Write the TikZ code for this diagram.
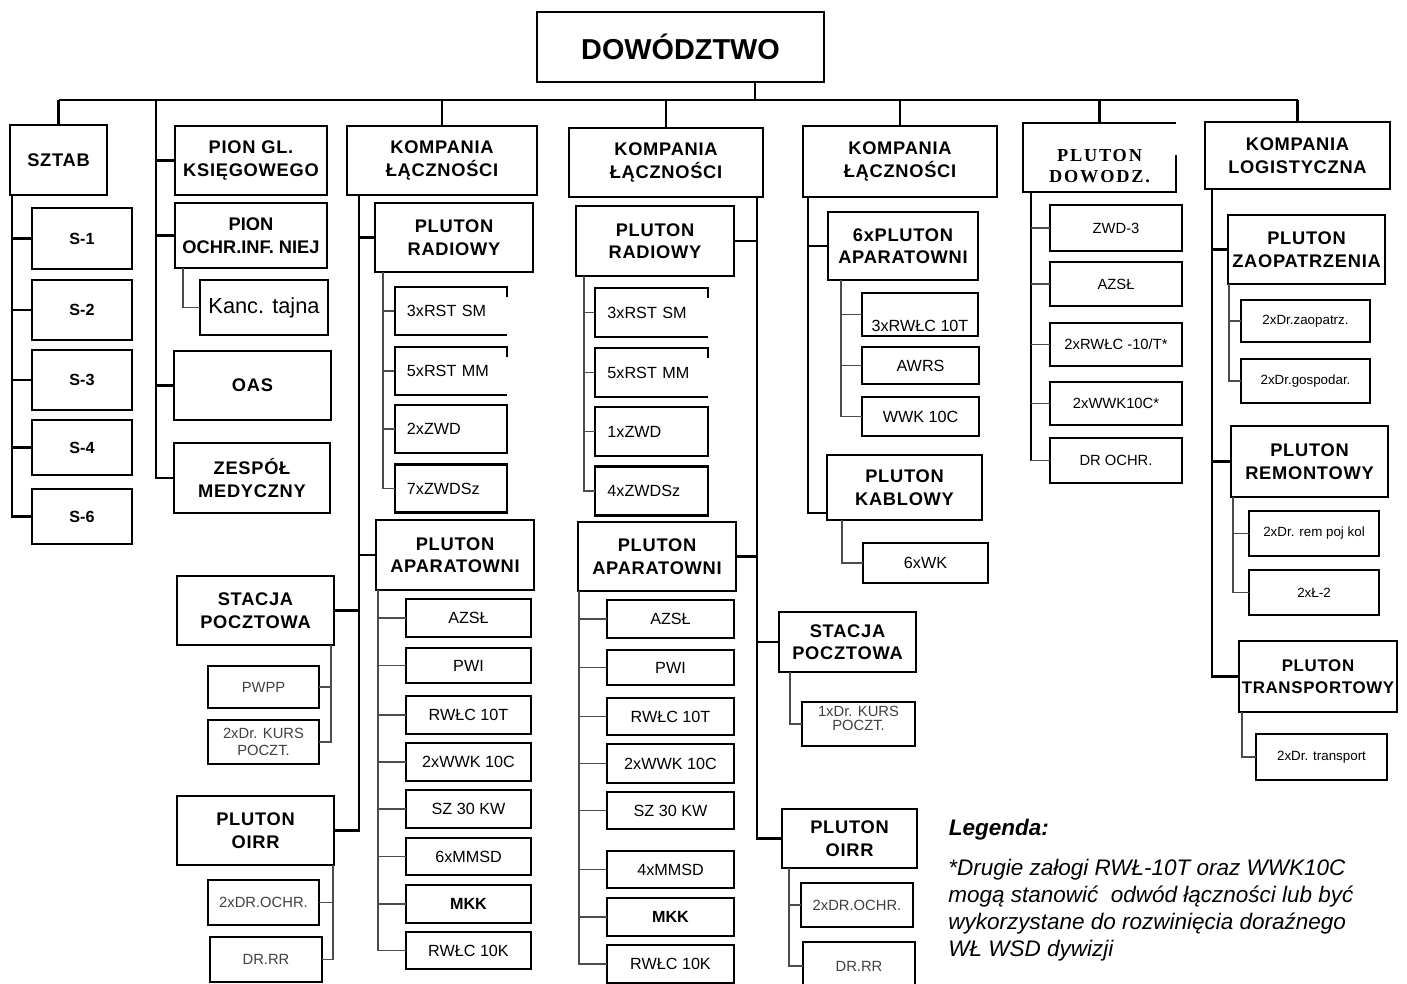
\documentclass[tikz,border=0pt]{standalone}
\usepackage{fontspec}
\setmainfont{Liberation Sans}
\newfontfamily\hdfont[LetterSpace=4]{Liberation Sans}
\newfontfamily\serfont[LetterSpace=10]{Liberation Serif}
\usetikzlibrary{calc}

\begin{document}
\begin{tikzpicture}[x=0.025cm, y=-0.025cm]
\tikzset{box/.style = {draw, line width=1.6pt, fill=white, inner sep=1pt, outer sep=0pt, align=center}}
\tikzset{hd/.style = {box, font=\hdfont\bfseries\fontsize{13}{16}\selectfont}}
\tikzset{smbox/.style = {box, font=\fontsize{11.5}{13}\selectfont}}
\tikzset{xsbox/.style = {box, font=\fontsize{9.5}{12}\selectfont}}
\tikzset{lbox/.style = {smbox, align=left, text width=2.2cm, inner xsep=0.3cm}}
\tikzset{obox/.style = {lbox, draw=none}}
\tikzset{sz/.style 2 args = {minimum width=#1*0.025cm, minimum height=#2*0.025cm}}
\tikzset{link/.style = {line width=2pt}}
\tikzset{sublink/.style = {line width=1pt, black!70}}

\useasboundingbox[fill=white] (0,0) rectangle (1407,984);

% top and first level
\node[box, font=\bfseries\fontsize{20.5}{24}\selectfont, sz={287}{70}] (dow) at (680.5,47) {DOWÓDZTWO};
\node[hd, sz={97}{70}] (sztab) at (58.5,160) {SZTAB};
\node[hd, sz={152}{69}] (pgl) at (251,160.5) {PION GL.\\KSIĘGOWEGO};
\node[hd, sz={190}{69}] (k1) at (442,160.5) {KOMPANIA\\ŁĄCZNOŚCI};
\node[hd, sz={194}{69}] (k2) at (666,162.5) {KOMPANIA\\ŁĄCZNOŚCI};
\node[hd, sz={194}{71}] (k3) at (900,161.5) {KOMPANIA\\ŁĄCZNOŚCI};
\node[hd, draw=none, font=\serfont\bfseries\fontsize{13}{15}\selectfont, sz={153}{69}] (dw) at (1099.5,157.5) {\raisebox{-7pt}[\height][\depth]{\begin{tabular}{@{}c@{}}PLUTON\\DOWODZ.\end{tabular}}};
\node[hd, sz={185}{67}] (log) at (1297.5,155.5) {KOMPANIA\\LOGISTYCZNA};
\draw[line width=1.6pt] (dw.north east) -- (dw.north west) -- (dw.south west) -- (dw.south east) -- ($(dw.south east)+(0,-37)$);

\coordinate (bus) at (0,100);
\coordinate (stem) at (755,100);
\draw[line width=1.6pt] (sztab.north |- bus) -- (log.north |- bus);
\draw[link] (dow.south -| stem) -- (stem);
\foreach \n in {sztab,k1,k2,k3,dw,log}
  \draw[link] (\n.north) -- (\n.north |- bus);

% sztab
\foreach \n/\y/\h/\t in {s1/238.5/61/S-1, s2/310/60/S-2, s3/380/60/S-3, s4/447.5/55/S-4, s6/516.5/55/S-6}
{ \node[smbox, font=\bfseries\fontsize{11.5}{13}\selectfont, sz={100}{\h}] (\n) at (82,\y) {\t};
  \draw[link] ($(sztab.south west)+(2,0)$) |- (\n.west); }

% piony
\node[box, font=\bfseries\fontsize{13}{16}\selectfont, sz={152}{65}] (poi) at (251,235.5) {PION\\OCHR.INF. NIEJ};
\node[box, font=\fontsize{15.5}{18}\selectfont, sz={128}{55}] (kanc) at (264,307.5) {Kanc. tajna};
\node[hd, sz={157}{69}] (oas) at (252.5,385.5) {OAS};
\node[hd, sz={156}{70}] (zm) at (252,478) {ZESPÓŁ\\MEDYCZNY};
\coordinate (pv) at (156,100);
\foreach \n in {pgl,poi,oas,zm}
  \draw[link] (pv) |- (\n.west);
\draw[sublink] ($(poi.south west)+(8,0)$) |- (kanc.west);

% kompania 1
\node[hd, sz={158}{69}] (pr1) at (454,237.5) {PLUTON\\RADIOWY};
\foreach \n/\y/\t in {r1a/311/3xRST SM, r1b/371/5xRST MM}
  \node[obox, sz={112}{48}] (\n) at (451,\y) {\t};
\foreach \n/\y/\t in {r1c/429/2xZWD, r1d/488.5/7xZWDSz}
  \node[lbox, sz={112}{48}] (\n) at (451,\y) {\t};
\foreach \n in {r1a,r1b,r1c,r1d}
  \draw[sublink] ($(pr1.south west)+(8,0)$) |- (\n.west);

\node[hd, sz={158}{70}] (pa1) at (455,555) {PLUTON\\APARATOWNI};
\foreach \n/\y/\h/\t in {a/618/38/AZSŁ, b/665.5/35/PWI, c/715/38/RWŁC 10T, d/762/38/2xWWK 10C, e/809/38/SZ 30 KW, f/856.5/37/6xMMSD, g/904/38/\textbf{MKK}, h/950.5/37/RWŁC 10K}
{ \node[smbox, sz={125}{\h}] (pa1\n) at (468.5,\y) {\t};
  \draw[sublink] ($(pa1.south west)+(2,0)$) |- (pa1\n.west); }

\node[hd, sz={157}{69}] (sp1) at (255.5,610.5) {STACJA\\POCZTOWA};
\node[smbox, text=black!75, font=\fontsize{10.5}{13}\selectfont, sz={111}{42}] (pwpp) at (263.5,687) {PWPP};
\node[smbox, text=black!75, font=\fontsize{10.5}{12}\selectfont, sz={111}{44}] (kurs1) at (263.5,742) {2xDr. KURS\\POCZT.};
\foreach \n in {pwpp,kurs1}
  \draw[sublink] ($(sp1.south east)+(-3,0)$) |- (\n.east);

\node[hd, sz={157}{69}] (oirr1) at (255.5,830.5) {PLUTON\\OIRR};
\node[smbox, text=black!75, font=\fontsize{10.5}{13}\selectfont, sz={111}{45}] (och1) at (263.5,902.5) {2xDR.OCHR.};
\node[smbox, text=black!75, font=\fontsize{10.5}{13}\selectfont, sz={112}{45}] (rr1) at (266,959.5) {DR.RR};
\foreach \n in {och1,rr1}
  \draw[sublink] ($(oirr1.south east)+(-1,0)$) |- (\n.east);

\foreach \n/\a in {pr1/west, pa1/west, sp1/east, oirr1/east}
  \draw[link] ($(k1.south west)+(12,0)$) |- (\n.\a);

% kompania 2
\node[hd, sz={158}{70}] (pr2) at (655,241) {PLUTON\\RADIOWY};
\foreach \n/\y/\t in {r2a/312.5/3xRST SM, r2b/372.5/5xRST MM}
  \node[obox, sz={113}{49}] (\n) at (651.5,\y) {\t};
\foreach \n/\y/\t in {r2c/431.5/1xZWD, r2d/491/4xZWDSz}
  \node[lbox, sz={113}{49}] (\n) at (651.5,\y) {\t};
\foreach \n in {r2a,r2b,r2c,r2d}
  \draw[sublink] ($(pr2.south west)+(8,0)$) |- (\n.west);
\foreach \n in {r1a,r1b,r2a,r2b}
  \draw[line width=1.6pt] ($(\n.north east)+(0,10)$) -- (\n.north east) -- (\n.north west) -- (\n.south west) -- (\n.south east);

\node[hd, sz={158}{69}] (pa2) at (657,556.5) {PLUTON\\APARATOWNI};
\foreach \n/\y/\h/\t in {a/619/38/AZSŁ, b/667.5/35/PWI, c/716.5/37/RWŁC 10T, d/763.5/39/2xWWK 10C, e/810.5/37/SZ 30 KW, f/869.5/37/4xMMSD, g/917/38/\textbf{MKK}, h/964/38/RWŁC 10K}
{ \node[smbox, sz={127}{\h}] (pa2\n) at (670.5,\y) {\t};
  \draw[sublink] ($(pa2.south west)+(1,0)$) |- (pa2\n.west); }

\node[hd, sz={137}{60}] (sp2) at (847.5,642) {STACJA\\POCZTOWA};
\node[smbox, text=black!75, font=\fontsize{10.5}{12}\selectfont, sz={113}{44}] (kurs2) at (858.5,724) {\raisebox{4pt}[\height][\depth]{\shortstack{1xDr. KURS\\POCZT.}}};
\draw[sublink] ($(sp2.south west)+(11,0)$) |- (kurs2.west);

\node[hd, sz={135}{59}] (oirr2) at (849.5,838.5) {PLUTON\\OIRR};
\node[smbox, text=black!75, font=\fontsize{10.5}{13}\selectfont, sz={112}{44}] (och2) at (857,905) {2xDR.OCHR.};
\node[smbox, text=black!75, font=\fontsize{10.5}{13}\selectfont, sz={112}{48}] (rr2) at (859,966) {DR.RR};
\foreach \n in {och2,rr2}
  \draw[sublink] ($(oirr2.south west)+(7,0)$) |- (\n.west);

\foreach \n/\a in {pr2/east, pa2/east, sp2/west, oirr2/west}
  \draw[link] ($(k2.south east)+(-6,0)$) |- (\n.\a);

% kompania 3
\node[hd, sz={150}{68}] (pa3) at (903,246) {6xPLUTON\\APARATOWNI};
\node[smbox, sz={116}{43}] (pa3a) at (920,314.5) {\raisebox{-8pt}[\height][\depth]{3xRWŁC 10T}};
\node[smbox, sz={117}{37}] (pa3b) at (920.5,365.5) {AWRS};
\node[smbox, sz={117}{39}] (pa3c) at (920.5,416.5) {WWK 10C};
\foreach \n in {pa3a,pa3b,pa3c}
  \draw[sublink] ($(pa3.south west)+(13,0)$) |- (\n.west);
\node[hd, sz={155}{65}] (kab) at (904.5,487.5) {PLUTON\\KABLOWY};
\node[smbox, sz={125}{40}] (wk) at (925.5,563) {6xWK};
\draw[sublink] ($(kab.south west)+(15,0)$) |- (wk.west);
\draw[link] ($(k3.south west)+(5,0)$) |- (pa3.west);
\draw[link] ($(k3.south west)+(5,0)$) |- ($(kab.south west)+(0,-7)$);

% pluton dowodzenia
\tikzset{dwbox/.style = {box, font=\fontsize{10.5}{13}\selectfont, minimum width=132*0.025cm}}
\node[dwbox, minimum height=46*0.025cm] (dwa) at (1116,228) {ZWD-3};
\node[dwbox, minimum height=44*0.025cm] (dwb) at (1116,284) {AZSŁ};
\node[dwbox, minimum height=43*0.025cm] (dwc) at (1116,344.5) {2xRWŁC -10/T*};
\node[dwbox, minimum height=43*0.025cm] (dwd) at (1116,403.5) {2xWWK10C*};
\node[dwbox, minimum height=45*0.025cm] (dwe) at (1116,460.5) {DR OCHR.};
\coordinate (dwv) at ($(dw.south west)+(8,0)$);
\draw[link] (dwv) -- (dwv |- dwe.west);
\foreach \n in {dwa,dwb,dwc,dwd,dwe}
  \draw[sublink] (dwv |- \n.west) -- (\n.west);

% kompania logistyczna
\node[hd, sz={157}{69}] (zp) at (1306.5,249.5) {PLUTON\\ZAOPATRZENIA};
\node[xsbox, sz={129}{42}] (zp1) at (1305.5,321) {2xDr.zaopatrz.};
\node[xsbox, sz={129}{44}] (zp2) at (1305.5,381) {2xDr.gospodar.};
\foreach \n in {zp1,zp2}
  \draw[sublink] ($(zp.south west)+(1,0)$) |- (\n.west);
\node[hd, sz={157}{71}] (rem) at (1309.5,461.5) {PLUTON\\REMONTOWY};
\node[xsbox, sz={130}{45}] (rem1) at (1314,533.5) {2xDr. rem poj kol};
\node[xsbox, sz={130}{45}] (rem2) at (1314,592.5) {2xŁ-2};
\foreach \n in {rem1,rem2}
  \draw[sublink] ($(rem.south west)+(2,0)$) |- (\n.west);
\node[hd, font=\hdfont\bfseries\fontsize{12}{16}\selectfont, sz={158}{71}] (tr) at (1318,676.5) {PLUTON\\TRANSPORTOWY};
\node[xsbox, sz={131}{46}] (tr1) at (1321.5,757) {2xDr. transport};
\draw[sublink] ($(tr.south west)+(3,0)$) |- (tr1.west);
\foreach \n in {zp,rem,tr}
  \draw[link] ($(log.south west)+(7,0)$) |- (\n.west);

% legenda
\node[anchor=west, font=\bfseries\itshape\fontsize{16}{19}\selectfont] (leg) at (944,830) {Legenda:};
\node[anchor=north west, align=left, inner sep=0pt, font=\itshape\fontsize{16}{19.2}\selectfont] (legtxt) at (948,859) {*Drugie załogi RWŁ-10T oraz WWK10C\\mogą stanowić \ odwód łączności lub być\\wykorzystane do rozwinięcia doraźnego\\WŁ WSD dywizji};

\end{tikzpicture}
\end{document}
